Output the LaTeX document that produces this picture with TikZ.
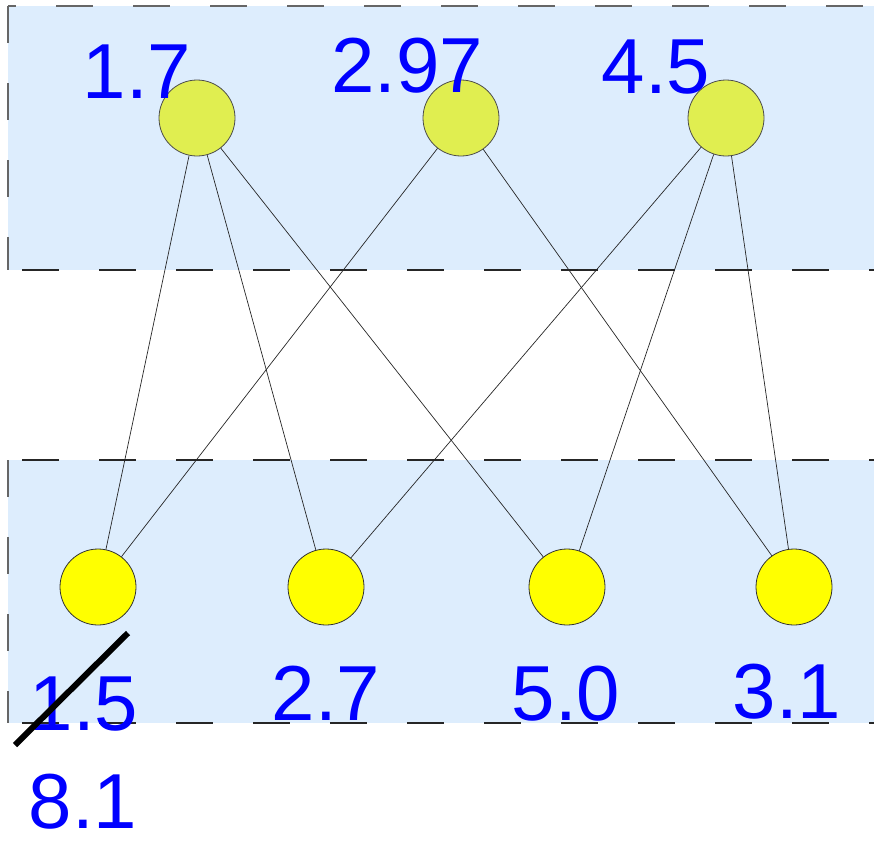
\documentclass[tikz,border=0pt]{standalone}
\usepackage{fontspec}
\setmainfont{Liberation Sans}
\begin{document}
\begin{tikzpicture}[x=1pt,y=-1pt,
  dashline/.style={dash pattern=on 37pt off 40pt,line width=1.1pt},
  topnode/.style={circle,draw=black!70,line width=0.8pt,fill=topyellow,minimum size=76pt,inner sep=0pt},
  botnode/.style={circle,draw=black!80,line width=0.8pt,fill=botyellow,minimum size=76pt,inner sep=0pt},
  num/.style={text=numblue,font=\fontsize{78}{78}\selectfont,anchor=base,inner sep=0pt},
  edge/.style={line width=0.7pt,draw=black!85}]
\definecolor{bandblue}{RGB}{221,237,253}
\definecolor{topyellow}{RGB}{224,238,80}
\definecolor{botyellow}{RGB}{255,255,0}
\definecolor{numblue}{RGB}{0,0,255}
\useasboundingbox (0,0) rectangle (874,846);
% bands
\fill[bandblue] (8,6) rectangle (874,270);
\fill[bandblue] (8,460) rectangle (874,723);
\draw[dashline,draw=black!60,dash phase=29pt] (8,6) -- (874,6);
\draw[dashline,draw=black!60] (8,6) -- (8,270);
\draw[dashline,draw=black!85,dash phase=-14pt] (8,270) -- (874,270);
\draw[dashline,draw=black!85,dash phase=-14pt] (8,460) -- (874,460);
\draw[dashline,draw=black!60] (8,460) -- (8,723);
\draw[dashline,draw=black!85,dash phase=-14pt] (8,723) -- (874,723);
% nodes
\node[topnode] (t1) at (197,118) {};
\node[topnode] (t2) at (461,118) {};
\node[topnode] (t3) at (726,118) {};
\node[botnode] (b1) at (98,587) {};
\node[botnode] (b2) at (326,587) {};
\node[botnode] (b3) at (567,587) {};
\node[botnode] (b4) at (794,587) {};
% edges
\draw[edge] (t1) -- (b1);
\draw[edge] (t1) -- (b2);
\draw[edge] (t1) -- (b3);
\draw[edge] (t2) -- (b1);
\draw[edge] (t2) -- (b4);
\draw[edge] (t3) -- (b2);
\draw[edge] (t3) -- (b3);
\draw[edge] (t3) -- (b4);
% labels
\node[num] (l1) at (137,98) {1.7};
\node[num] (l2) at (407,92) {2.97};
\node[num] (l3) at (656,93) {4.5};
\node[num] (m1) at (84,730) {1.5};
\node[num] (m2) at (326,720) {2.7};
\node[num] (m3) at (566,720) {5.0};
\node[num] (m4) at (787,718) {3.1};
\node[num] (m5) at (83,828) {8.1};
% strike
\coordinate (s1) at (15,745);
\coordinate (s2) at (128,633);
\draw[line width=6pt] (s1) -- (s2);
\end{tikzpicture}
\end{document}
